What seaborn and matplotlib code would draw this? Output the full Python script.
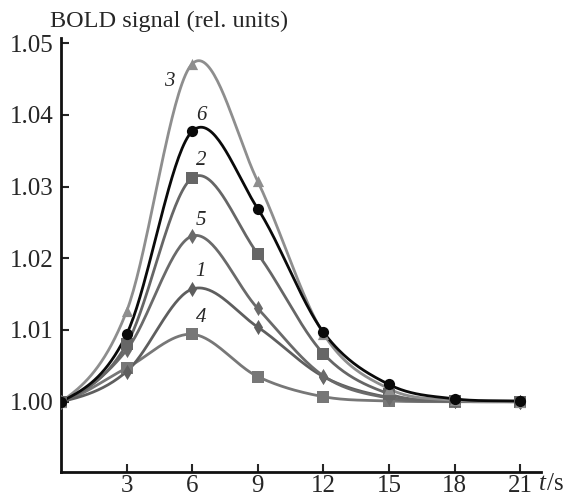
import numpy as np
import pandas as pd
import matplotlib
matplotlib.use("Agg")
import matplotlib.pyplot as plt
import seaborn as sns

# time points (s)
t = [0, 3, 6, 9, 12, 15, 18, 21]

# BOLD signal for each curve
curve_1 = [1.0000, 1.0042, 1.0157, 1.0104, 1.0035, 1.0006, 1.0001, 1.0000]
curve_2 = [1.0000, 1.0080, 1.0312, 1.0206, 1.0067, 1.0011, 1.0001, 1.0000]
curve_3 = [1.0000, 1.0126, 1.0471, 1.0307, 1.0095, 1.0018, 1.0002, 1.0000]
curve_4 = [1.0000, 1.0047, 1.0094, 1.0035, 1.0007, 1.0001, 1.0000, 1.0000]
curve_5 = [1.0000, 1.0072, 1.0231, 1.0130, 1.0036, 1.0005, 1.0001, 1.0000]
curve_6 = [1.0000, 1.0094, 1.0377, 1.0269, 1.0097, 1.0024, 1.0004, 1.0001]

names = ['1', '2', '3', '4', '5', '6']
series = [curve_1, curve_2, curve_3, curve_4, curve_5, curve_6]
colors = ['#5e5e5e', '#666666', '#8e8e8e', '#777777', '#6a6a6a', '#0a0a0a']
markers = ['d', 's', '^', 's', 'd', 'o']
msizes = [60, 65, 65, 65, 60, 65]
# draw order: background curves first, black last
order = [3, 0, 4, 1, 2, 5]


def smooth(x, y, n=40):
    """Catmull-Rom curve through the points (for drawing only)."""
    x = np.asarray(x, float)
    y = np.asarray(y, float)
    k = len(x)
    m = np.zeros(k)
    m[1:-1] = (y[2:] - y[:-2]) / (x[2:] - x[:-2])
    m[0] = (y[1] - y[0]) / (x[1] - x[0]) * 0.5
    m[-1] = (y[-1] - y[-2]) / (x[-1] - x[-2])
    xs_all, ys_all = [], []
    for i in range(k - 1):
        h = x[i + 1] - x[i]
        s = np.linspace(0, 1, n)
        h00 = 2 * s**3 - 3 * s**2 + 1
        h10 = s**3 - 2 * s**2 + s
        h01 = -2 * s**3 + 3 * s**2
        h11 = s**3 - s**2
        xs_all.append(x[i] + s * h)
        ys_all.append(h00 * y[i] + h10 * h * m[i] + h01 * y[i + 1] + h11 * h * m[i + 1])
    return np.concatenate(xs_all), np.concatenate(ys_all)


sns.set_style('white')
plt.rcParams['font.family'] = ['Liberation Serif', 'DejaVu Serif']

fig = plt.figure(figsize=(5.67, 4.99), dpi=100)
ax = fig.add_axes([0.1076, 0.0541, 0.8464, 0.8697])

for i in order:
    xs, ys = smooth(t, series[i])
    sns.lineplot(x=xs, y=ys, color=colors[i], linewidth=2.0, ax=ax, sort=False)
    sns.scatterplot(x=t, y=series[i], marker=markers[i], s=msizes[i],
                    color=colors[i], edgecolor=colors[i], linewidth=0,
                    ax=ax, zorder=3)

# curve numbers
label_pos = {'3': (4.95, 1.0446), '6': (6.4, 1.0399), '2': (6.4, 1.0336),
             '5': (6.4, 1.0253), '1': (6.4, 1.0181), '4': (6.4, 1.0118)}
for name, (x, y) in label_pos.items():
    ax.text(x, y, name, fontsize=15, style='italic', ha='center', va='center')

ax.set_xlim(0, 21.95)
ax.set_ylim(0.9902, 1.0507)
ax.set_xticks([3, 6, 9, 12, 15, 18, 21])
ax.set_yticks([1.00, 1.01, 1.02, 1.03, 1.04, 1.05])
ax.set_yticklabels(['1.00', '1.01', '1.02', '1.03', '1.04', '1.05'])
ax.tick_params(direction='in', length=6, width=1.5, labelsize=18,
               left=True, bottom=True)
ax.tick_params(axis='x', pad=2.5)
ax.tick_params(axis='y', pad=5)
for side in ['top', 'right']:
    ax.spines[side].set_visible(False)
for side in ['left', 'bottom']:
    ax.spines[side].set_linewidth(2)
    ax.spines[side].set_color('#111111')
ax.set_xlabel('')
ax.set_ylabel('')

fig.text(0.088, 0.935, 'BOLD signal (rel. units)', fontsize=17.5, ha='left', va='bottom')
fig.text(0.951, 0.008, 't', fontsize=18, style='italic', ha='left', va='bottom')
fig.text(0.965, 0.008, '/s', fontsize=18, ha='left', va='bottom')

fig.savefig('out.png', dpi=100)
